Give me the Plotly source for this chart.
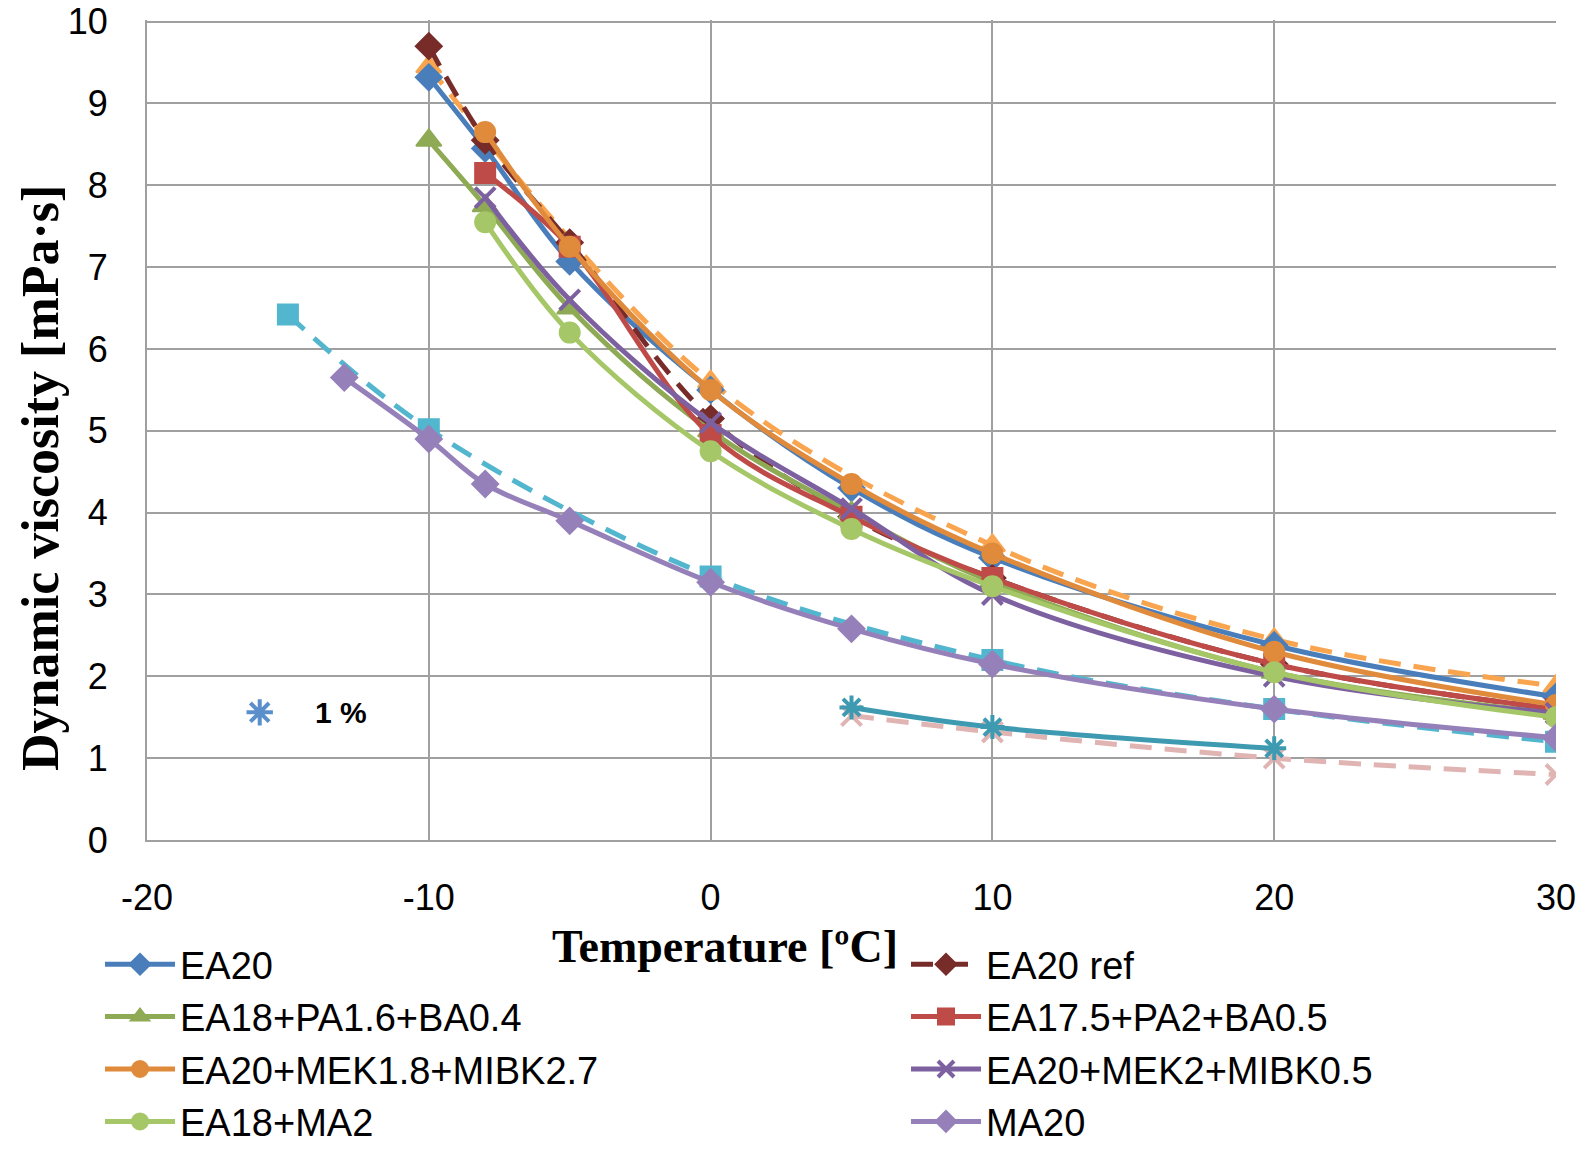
import plotly.graph_objects as go

# ---------------- data ----------------
t_main = [-10, -8, -5, 0, 5, 10, 20, 30]
t_8 = [-8, -5, 0, 5, 10, 20, 30]

ea20 = [9.32, 8.45, 7.07, 5.50, 4.30, 3.45, 2.38, 1.75]
ea20_ref = [9.70, 8.55, 7.30, 5.15, 3.95, 3.20, 2.15, 1.60]
ea18_pa_ba = [8.55, 7.75, 6.50, 5.00, 4.00, 3.15, 2.05, 1.55]
ea175_pa_ba = [8.15, 7.25, 4.95, 3.95, 3.20, 2.15, 1.60]
ea20_mek_mibk27 = [8.65, 7.25, 5.50, 4.35, 3.50, 2.30, 1.65]
ea20_mek_mibk05 = [7.85, 6.60, 5.10, 4.05, 3.00, 2.00, 1.55]
ea18_ma2 = [7.55, 6.20, 4.75, 3.80, 3.10, 2.05, 1.50]

t_ma20 = [-13, -10, -8, -5, 0, 5, 10, 20, 30]
ma20 = [5.65, 4.90, 4.35, 3.90, 3.15, 2.58, 2.15, 1.60, 1.25]

t_orange = [-10, 0, 10, 20, 30]
orange_dash = [9.45, 5.60, 3.60, 2.45, 1.88]

t_cyan = [-15, -10, 0, 10, 20, 30]
cyan_dash = [6.42, 5.02, 3.22, 2.20, 1.60, 1.20]

t_teal = [5, 10, 20]
teal = [1.62, 1.38, 1.12]

t_pink = [5, 10, 20, 30]
pink_dash = [1.52, 1.32, 1.00, 0.80]

note_x = [-16]
note_y = [1.56]
note_text = "1 %"

x_ticks = [-20, -10, 0, 10, 20, 30]
y_ticks = list(range(0, 11))

fig = go.Figure()

DASH = "22px,13px"


def add(x, y, name, color, symbol, dash="solid", size=20, legend=None, lw=5, mlw=2):
    fig.add_trace(go.Scatter(
        x=x, y=y, name=name, mode="lines+markers",
        line=dict(color=color, width=lw, dash=dash, shape="spline", smoothing=1.0),
        marker=dict(color=color, symbol=symbol, size=size,
                    line=dict(color=color, width=mlw)),
        showlegend=legend is not None,
        legend=legend if legend else "legend"))


# series without legend entries
add(t_pink, pink_dash, "pink", "#E0B4B3", "x-thin-open", dash=DASH, size=20, lw=5, mlw=4)
add(t_teal, teal, "teal", "#3D9AB0", "asterisk-open", size=20, lw=5, mlw=4)
add(t_cyan, cyan_dash, "cyan", "#52B6CF", "square", dash=DASH, size=20, lw=5)
add(t_orange, orange_dash, "orange", "#F9A54F", "triangle-up", dash=DASH, size=22, lw=5)

# legend series
add(t_main, ea20, "EA20", "#4A7EBB", "diamond", legend="legend")
add(t_main, ea20_ref, "EA20 ref", "#772C2A", "diamond", dash=DASH, legend="legend2")
add(t_main, ea18_pa_ba, "EA18+PA1.6+BA0.4", "#8FAA55", "triangle-up", size=22, legend="legend")
add(t_8, ea175_pa_ba, "EA17.5+PA2+BA0.5", "#BE4B48", "square", legend="legend2")
add(t_8, ea20_mek_mibk27, "EA20+MEK1.8+MIBK2.7", "#E08A3C", "circle", legend="legend")
add(t_8, ea20_mek_mibk05, "EA20+MEK2+MIBK0.5", "#7D60A0", "x-thin-open", mlw=4, legend="legend2")
add(t_8, ea18_ma2, "EA18+MA2", "#A6C767", "circle", legend="legend")
add(t_ma20, ma20, "MA20", "#9680BA", "diamond", legend="legend2")

# "1 %" marker
fig.add_trace(go.Scatter(x=note_x, y=note_y, mode="markers", showlegend=False,
                         marker=dict(symbol="asterisk-open", size=22, color="#5B8FCC",
                                     line=dict(color="#5B8FCC", width=4))))
fig.add_annotation(x=-14.1, y=note_y[0], xref="x", yref="y", text="<b>" + note_text + "</b>",
                   showarrow=False, xanchor="left", yanchor="middle",
                   font=dict(family="Liberation Sans", size=30, color="black"))

grid = "#A0A0A0"
fig.update_xaxes(range=[-20, 30], tickvals=x_ticks, ticktext=[str(v) for v in x_ticks],
                 showgrid=True, gridcolor=grid, gridwidth=2,
                 showline=True, linecolor=grid, linewidth=2, zeroline=False,
                 ticks="", ticklabelstandoff=25,
                 tickfont=dict(family="Liberation Sans", size=36, color="black"))
fig.update_yaxes(range=[0, 10.02], tickvals=y_ticks, ticktext=[str(v) for v in y_ticks],
                 showgrid=True, gridcolor=grid, gridwidth=2,
                 showline=True, linecolor=grid, linewidth=2, zeroline=False,
                 ticks="", ticklabelstandoff=30,
                 tickfont=dict(family="Liberation Sans", size=36, color="black"))

# axis titles
fig.add_annotation(x=(725 - 147) / 1409, y=(840 - 946) / 820, xref="paper", yref="paper",
                   text="<b>Temperature [ºC]</b>", showarrow=False,
                   xanchor="center", yanchor="middle",
                   font=dict(family="Liberation Serif", size=46, color="black"))
fig.add_annotation(x=(40 - 147) / 1409, y=(840 - 478) / 820, xref="paper", yref="paper",
                   text="<b>Dynamic viscosity [mPa·s]</b>", showarrow=False, textangle=-90,
                   xanchor="center", yanchor="middle",
                   font=dict(family="Liberation Serif", size=52, color="black"))

leg_common = dict(orientation="v", yanchor="top", xanchor="left", itemwidth=70,
                  tracegroupgap=0, traceorder="normal",
                  font=dict(family="Liberation Sans", size=38, color="black"),
                  bgcolor="rgba(0,0,0,0)")
fig.update_layout(
    width=1589, height=1154,
    margin=dict(l=147, r=33, t=20, b=314, autoexpand=False),
    plot_bgcolor="white", paper_bgcolor="white",
    legend=dict(x=(100 - 147) / 1409, y=(840 - 933) / 820, **leg_common),
    legend2=dict(x=(906 - 147) / 1409, y=(840 - 933) / 820, **leg_common),
)

fig.write_html("out.html")
